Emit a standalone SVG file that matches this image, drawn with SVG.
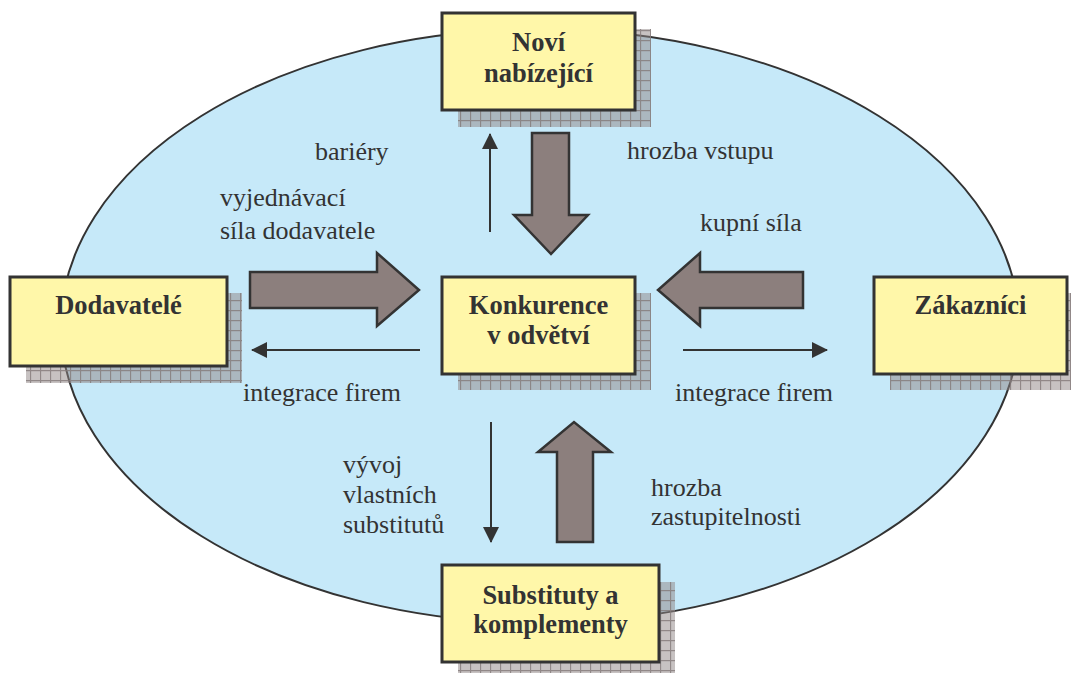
<svg xmlns="http://www.w3.org/2000/svg" width="1071" height="675" viewBox="0 0 1071 675">
<style>
.box{fill:#fff7a9;stroke:#333;stroke-width:3}
.shadow{fill:url(#grid)}
.lbl{font-family:'Liberation Serif','DejaVu Serif',serif;font-weight:bold;font-size:26.5px;fill:#333;text-anchor:middle}
.txt{font-family:'Liberation Serif','DejaVu Serif',serif;font-size:26px;fill:#333}
.big{fill:#8c7f7d;stroke:#333;stroke-width:2.5;stroke-linejoin:miter}
.thin{stroke:#333;stroke-width:2;fill:none;marker-end:url(#ah)}
</style>
<defs>
<pattern id="grid" width="10" height="10" patternUnits="userSpaceOnUse">
<rect width="10" height="10" fill="#8f8585" fill-opacity="0.5"/>
<path d="M0 0.5H10M0.5 0V10" stroke="#857a7a" stroke-width="1.3" stroke-opacity="0.8"/>
</pattern>
<marker id="ah" viewBox="0 0 16 16" refX="15" refY="8" markerWidth="16" markerHeight="16" markerUnits="userSpaceOnUse" orient="auto">
<path d="M0 0L16 8L0 16Z" fill="#333"/>
</marker>
</defs>
<ellipse cx="540" cy="326" rx="479" ry="297" fill="#c6e9f9" stroke="#333" stroke-width="2"/>
<g id="connectors">
<polygon class="big" points="532,133 569,133 569,215 588,215 551,254 514,215 532,215"/>
<polygon class="big" points="250,272 377,272 377,253 419,290 377,326 377,308 250,308"/>
<polygon class="big" points="803,272 700,272 700,253 658,290 700,326 700,308 803,308"/>
<polygon class="big" points="557,542 557,452 538,452 574,422 611,452 593,452 593,542"/>
<line class="thin" x1="490" y1="232" x2="490" y2="134"/>
<line class="thin" x1="420" y1="350" x2="252" y2="350"/>
<line class="thin" x1="683" y1="350" x2="827" y2="350"/>
<line class="thin" x1="491" y1="422" x2="491" y2="542"/>
</g>
<g id="labels">
<text class="txt" x="315" y="160">bariéry</text>
<text class="txt" x="627" y="159">hrozba vstupu</text>
<text class="txt" x="220" y="206">vyjednávací</text>
<text class="txt" x="220" y="239">síla dodavatele</text>
<text class="txt" x="700" y="231">kupní síla</text>
<text class="txt" x="243" y="401">integrace firem</text>
<text class="txt" x="675" y="401">integrace firem</text>
<text class="txt" x="343" y="473">vývoj</text>
<text class="txt" x="343" y="503">vlastních</text>
<text class="txt" x="343" y="533">substitutů</text>
<text class="txt" x="651" y="496">hrozba</text>
<text class="txt" x="651" y="525">zastupitelnosti</text>
</g>
<g id="novi">
<rect class="shadow" x="458" y="29" width="193" height="98"/>
<rect class="box" x="442" y="13" width="193" height="97"/>
<text class="lbl" x="538.5" y="51">Noví</text>
<text class="lbl" x="538.5" y="82">nabízející</text>
</g>
<g id="dodavatele">
<rect class="shadow" x="26" y="293" width="216" height="90"/>
<rect class="box" x="10" y="277" width="217" height="89"/>
<text class="lbl" x="118.5" y="314">Dodavatelé</text>
</g>
<g id="konkurence">
<rect class="shadow" x="458" y="293" width="193" height="97"/>
<rect class="box" x="442" y="277" width="193" height="97"/>
<text class="lbl" x="538.5" y="314">Konkurence</text>
<text class="lbl" x="538.5" y="344">v odvětví</text>
</g>
<g id="zakaznici">
<rect class="shadow" x="890" y="293" width="181" height="97"/>
<rect class="box" x="874" y="277" width="193" height="97"/>
<text class="lbl" x="970.5" y="314">Zákazníci</text>
</g>
<g id="substituty">
<rect class="shadow" x="458" y="582" width="217" height="91"/>
<rect class="box" x="442" y="565" width="217" height="97"/>
<text class="lbl" x="550.5" y="604">Substituty a</text>
<text class="lbl" x="550.5" y="633">komplementy</text>
</g>
</svg>
